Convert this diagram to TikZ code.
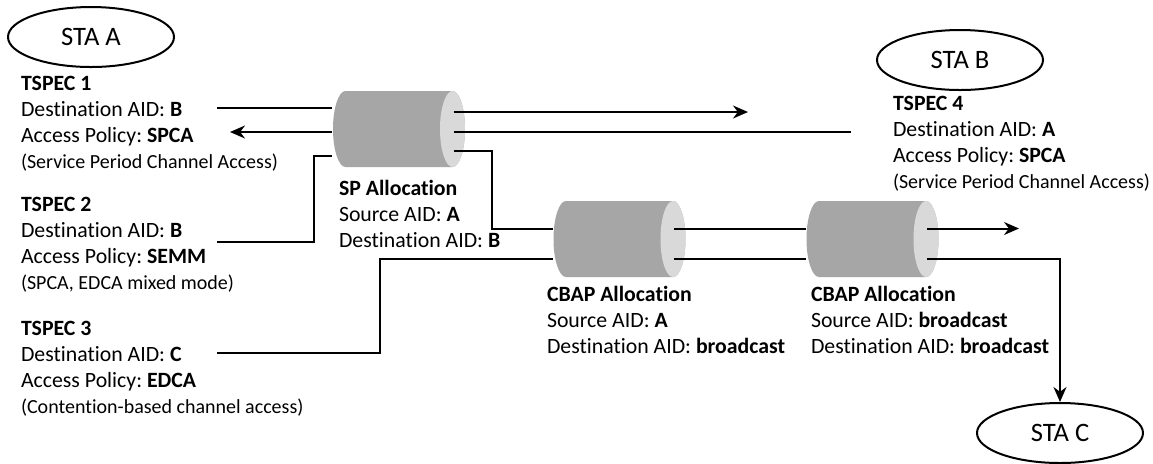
\documentclass[tikz,border=0pt]{standalone}
\usepackage{fontspec}
\setmainfont{Carlito}[Ligatures=CommonOff]
\usetikzlibrary{shapes.geometric,arrows.meta}
\definecolor{bodygray}{HTML}{A6A6A6}
\definecolor{endgray}{HTML}{D9D9D9}
\newcommand{\smallnote}[1]{{\fontsize{10}{13.1}\selectfont #1}}
\frenchspacing

\begin{document}
\begin{tikzpicture}[x=0.5pt, y=-0.5pt, >={Stealth[length=7.5pt,width=6.5pt]}, line width=1pt]
    \tikzstyle{station} = [draw, ellipse, minimum width=83pt, minimum height=30pt,
	inner sep=0pt, font=\fontsize{13.3}{16}\selectfont]
    \tikzstyle{alloc} = [minimum width=66pt, minimum height=38pt, inner sep=0pt,
	path picture={
		\fill[bodygray] ([xshift=6.25pt]path picture bounding box.north west)
			arc[start angle=90, end angle=270, x radius=6.25pt, y radius=19pt]
			-- ([xshift=-6.25pt]path picture bounding box.south east)
			arc[start angle=270, end angle=450, x radius=6.25pt, y radius=19pt] -- cycle;
		\fill[endgray] ([xshift=-6.25pt]path picture bounding box.east)
			ellipse[x radius=6.25pt, y radius=19pt];}]
    \tikzstyle{info} = [anchor=north west, align=left, inner sep=0pt,
	font=\fontsize{10.9}{13.1}\selectfont]
	\path[use as bounding box, fill=white] (0,0) rectangle (1153,463);

	\node[station] (staA) at (91,37) {STA A};
	\node[station] (staB) at (960,60) {STA B};
	\node[station] (staC) at (1060,433) {STA C};

	\node[alloc] (sp) at (399,129) {};
	\node[alloc] (cbapA) at (619.5,239) {};
	\node[alloc] (cbapB) at (872.5,239) {};

	\node[info] (ts1) at (20,70.7) {\strut\textbf{TSPEC 1}\\
		Destination AID: \textbf{B}\\ Access Policy: \textbf{SPCA}\\
		\smallnote{(Service Period Channel Access)}};
	\node[info] (ts2) at (20,191.7) {\strut\textbf{TSPEC 2}\\
		Destination AID: \textbf{B}\\ Access Policy: \textbf{SEMM}\\
		\smallnote{(SPCA, EDCA mixed mode)}};
	\node[info] (ts3) at (20,315.7) {\strut\textbf{TSPEC 3}\\
		Destination AID: \textbf{C}\\ Access Policy: \textbf{EDCA}\\
		\smallnote{(Contention-based channel access)}};
	\node[info] (ts4) at (892,90.7) {\strut\textbf{TSPEC 4}\\
		Destination AID: \textbf{A}\\ Access Policy: \textbf{SPCA}\\
		\smallnote{(Service Period Channel Access)}};
	\node[info] (spInfo) at (338,175.7) {\strut\textbf{SP Allocation}\\
		Source AID: \textbf{A}\\ Destination AID: \textbf{B}};
	\node[info] (cbInfoA) at (546,281.7) {\strut\textbf{CBAP Allocation}\\
		Source AID: \textbf{A}\\ Destination AID: \textbf{broadcast}};
	\node[info] (cbInfoB) at (810,281.7) {\strut\textbf{CBAP Allocation}\\
		Source AID: \textbf{broadcast}\\ Destination AID: \textbf{broadcast}};

	\coordinate (spR) at ([xshift=-6.25pt]sp.east);
	\coordinate (cbapAR) at ([xshift=-6.25pt]cbapA.east);
	\coordinate (cbapBR) at ([xshift=-6.25pt]cbapB.east);
	\coordinate (in1) at (217,108);
	\coordinate (out1) at (230,132);
	\coordinate (in2) at (217,242);
	\coordinate (bend2) at (314,156);
	\coordinate (in3) at (217,353);
	\coordinate (bend3) at (380,259);
	\coordinate (in4) at (851,132);
	\coordinate (outB) at (748,112);
	\coordinate (down1) at (492,151);
	\coordinate (down2) at (492,229);
	\coordinate (rowU) at (0,228.5);
	\coordinate (rowL) at (0,258.5);
	\coordinate (outC) at (1019,228.5);

	\draw (in1) -- (in1 -| sp.west);
	\draw[->] (sp.west |- out1) -- (out1);
	\draw (in2) -| (bend2) -- (bend2 -| sp.west);
	\draw[->] (spR |- outB) -- (outB);
	\draw (in4) -- (spR |- in4);
	\draw (spR |- down1) -- (down1) -- (down2) -- (down2 -| cbapA.west);
	\draw (in3) -| (bend3) -- (bend3 -| cbapA.west);
	\draw (cbapAR |- rowU) -- (cbapB.west |- rowU);
	\draw (cbapAR |- rowL) -- (cbapB.west |- rowL);
	\draw[->] (cbapBR |- rowU) -- (outC);
	\draw[->] (cbapBR |- rowL) -| (staC);
\end{tikzpicture}
\end{document}
